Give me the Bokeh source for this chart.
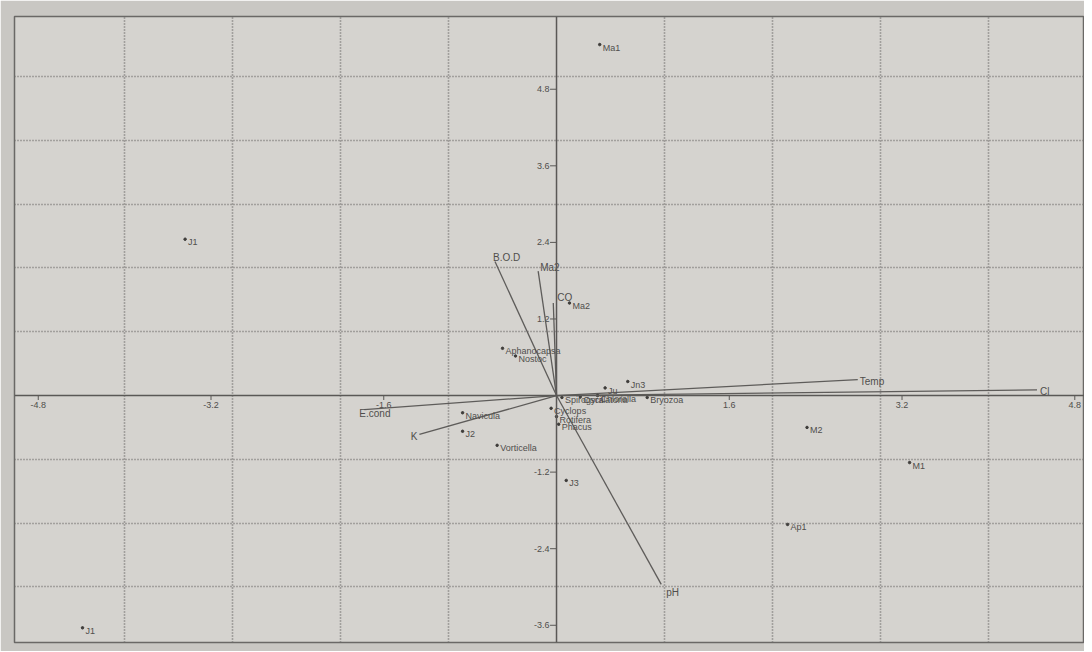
from bokeh.plotting import figure
from bokeh.models import ColumnDataSource, Span, FixedTicker, Range1d
from bokeh.core.properties import value
from bokeh.embed import file_html
from bokeh.resources import INLINE

# ---- data ----
env_names = ["B.O.D", "Ma2", "CO", "Temp", "Cl", "pH", "E.cond", "K"]
env_x = [-0.57, -0.17, -0.03, 2.79, 4.45, 0.97, -1.78, -1.27]
env_y = [2.10, 1.95, 1.45, 0.25, 0.09, -2.96, -0.22, -0.61]

pt_names = ["Ma1", "J1", "J1", "Aphanocapsa", "Nostoc", "Navicula", "J2",
            "Vorticella", "J3", "M2", "M1", "Ap1", "Ma2", "Jn3", "Ju",
            "Spirogyra", "Oscillatoria", "Chlorella", "Bryozoa",
            "Cyclops", "Rotifera", "Phacus"]
pt_x = [0.40, -3.44, -4.39, -0.50, -0.38, -0.87, -0.87,
        -0.55, 0.09, 2.32, 3.27, 2.14, 0.12, 0.66, 0.45,
        0.05, 0.22, 0.38, 0.84,
        -0.05, 0.00, 0.02]
pt_y = [5.50, 2.45, -3.64, 0.74, 0.62, -0.27, -0.56,
        -0.78, -1.33, -0.50, -1.05, -2.02, 1.45, 0.22, 0.12,
        -0.03, -0.02, 0.00, -0.03,
        -0.20, -0.33, -0.45]

x_ticks = [-4.8, -3.2, -1.6, 1.6, 3.2, 4.8]
y_ticks = [-3.6, -2.4, -1.2, 1.2, 2.4, 3.6, 4.8]
grid_x = [-4, -3, -2, -1, 1, 2, 3, 4]
grid_y = [-3, -2, -1, 1, 2, 3, 4, 5]

INK = "#504e4c"
FONT = value("Liberation Sans")

p = figure(width=1084, height=651, output_backend="svg", toolbar_location=None,
           x_range=Range1d(-5.02, 4.89), y_range=Range1d(-3.87, 5.94),
           min_border_left=14, min_border_right=0, min_border_top=16, min_border_bottom=9)
p.background_fill_color = "#d5d3cf"
p.border_fill_color = "#c9c7c3"
p.outline_line_color = "#6a6866"
p.outline_line_width = 1.5
p.xaxis.visible = False
p.yaxis.visible = False
p.xgrid.ticker = FixedTicker(ticks=grid_x)
p.ygrid.ticker = FixedTicker(ticks=grid_y)
for g in (p.xgrid, p.ygrid):
    g.grid_line_color = "#6e6c6a"
    g.grid_line_dash = "1 2"
    g.grid_line_width = 1.6

# axes through origin
p.add_layout(Span(location=0, dimension="width", line_color="#5a5856", line_width=1.5))
p.add_layout(Span(location=0, dimension="height", line_color="#5a5856", line_width=1.5))

# tick marks & labels
p.segment(x0=x_ticks, y0=[0] * len(x_ticks), x1=x_ticks, y1=[-0.07] * len(x_ticks),
          line_color="#5a5856", line_width=1)
p.text(x=x_ticks, y=[0] * len(x_ticks), text=[f"{v:g}" for v in x_ticks],
       text_align="center", text_baseline="top", y_offset=6,
       text_font=FONT, text_font_size="9px", text_color=INK)
p.segment(x0=[0] * len(y_ticks), y0=y_ticks, x1=[-0.06] * len(y_ticks), y1=y_ticks,
          line_color="#5a5856", line_width=1)
p.text(x=[0] * len(y_ticks), y=y_ticks, text=[f"{v:g}" for v in y_ticks],
       text_align="right", text_baseline="middle", x_offset=-7,
       text_font=FONT, text_font_size="9px", text_color=INK)

# environmental vectors
src_env = ColumnDataSource(dict(x0=[0] * len(env_x), y0=[0] * len(env_y),
                                x=env_x, y=env_y, name=env_names))
p.segment(x0="x0", y0="y0", x1="x", y1="y", source=src_env,
          line_color="#5e5c5a", line_width=1.3)
env_dx = [-2, 2, 4, 2, 3, 5, -5, -2]
env_dy = [-4, -4, -6, 2, 2, 8, 4, 2]
env_al = ["left", "left", "left", "left", "left", "left", "left", "right"]
env_src2 = ColumnDataSource(dict(x=env_x, y=env_y, name=env_names,
                                 dx=env_dx, dy=env_dy, al=env_al))
p.text(x="x", y="y", text="name", source=env_src2, x_offset="dx", y_offset="dy",
       text_align="al", text_baseline="middle",
       text_font=FONT, text_font_size="10px", text_color=INK)

# sample / species points
src_pt = ColumnDataSource(dict(x=pt_x, y=pt_y, name=pt_names))
p.scatter(x="x", y="y", source=src_pt, size=2.5, color="#3e3c3a")
p.text(x="x", y="y", text="name", source=src_pt, x_offset=3, y_offset=-2,
       text_align="left", text_baseline="top",
       text_font=FONT, text_font_size="9px", text_color=INK)

open("out.html", "w").write(file_html(p, INLINE))
